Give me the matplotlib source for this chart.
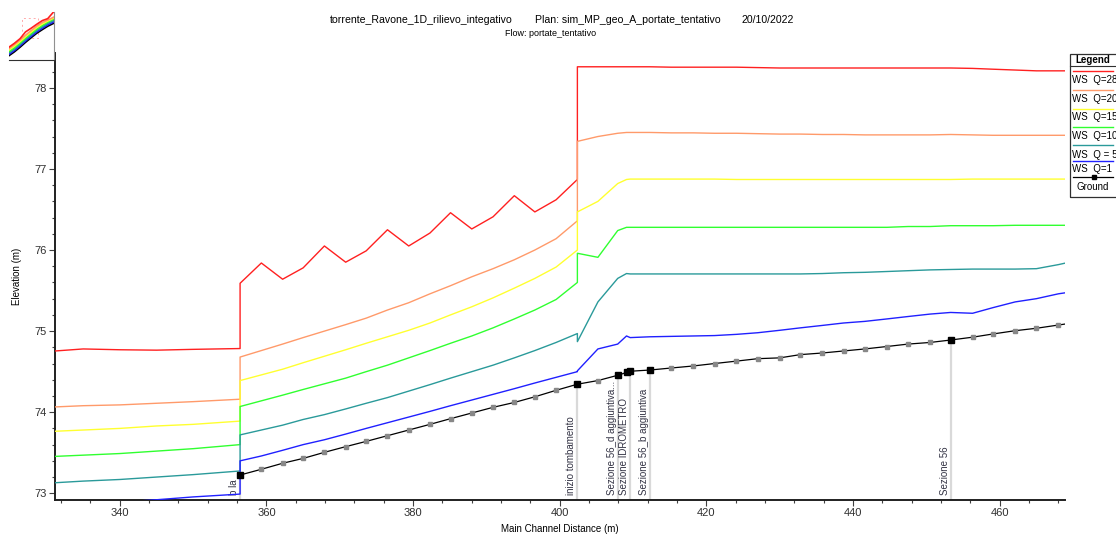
import matplotlib
matplotlib.use('Agg')
import matplotlib.pyplot as plt
from matplotlib.lines import Line2D
from matplotlib.patches import Rectangle
from matplotlib.ticker import MultipleLocator

plt.rcParams['font.family'] = ['Liberation Sans', 'DejaVu Sans']

# ---------------- data ----------------
stations = [331.2, 335.0, 340.0, 345.0, 350.0, 356.4,
            356.4, 359.3, 362.2, 365.0, 367.9, 370.8, 373.6, 376.5, 379.4,
            382.3, 385.1, 388.0, 390.9, 393.8, 396.6, 399.5, 402.4,
            402.4, 405.2, 407.9, 409.1, 409.6, 412.3, 415.2, 418.2, 421.1,
            424.1, 427.0, 430.0, 432.8, 435.8, 438.7, 441.6, 444.6, 447.5,
            450.5, 453.3, 456.3, 459.1, 462.1, 465.0, 468.0, 469.5]

ws_q28 = [74.755, 74.78, 74.77, 74.765, 74.775, 74.785,
          75.59, 75.84, 75.64, 75.78, 76.05, 75.85, 75.99, 76.25, 76.05,
          76.21, 76.46, 76.26, 76.41, 76.67, 76.47, 76.62, 76.87,
          78.26, 78.26, 78.26, 78.26, 78.26, 78.26, 78.255, 78.255, 78.255,
          78.255, 78.25, 78.245, 78.245, 78.245, 78.245, 78.245, 78.245, 78.245,
          78.245, 78.245, 78.24, 78.23, 78.22, 78.21, 78.21, 78.21]

ws_q20 = [74.065, 74.08, 74.09, 74.11, 74.13, 74.16,
          74.68, 74.76, 74.84, 74.92, 75.00, 75.08, 75.16, 75.26, 75.35,
          75.46, 75.56, 75.67, 75.77, 75.88, 76.00, 76.14, 76.36,
          77.34, 77.40, 77.44, 77.45, 77.45, 77.45, 77.445, 77.445, 77.44,
          77.44, 77.435, 77.43, 77.43, 77.425, 77.425, 77.42, 77.42, 77.42,
          77.42, 77.425, 77.42, 77.415, 77.415, 77.415, 77.415, 77.415]

ws_q15 = [73.765, 73.78, 73.80, 73.83, 73.85, 73.89,
          74.39, 74.46, 74.53, 74.61, 74.69, 74.77, 74.85, 74.93, 75.01,
          75.10, 75.20, 75.30, 75.41, 75.53, 75.65, 75.79, 76.00,
          76.47, 76.60, 76.82, 76.87, 76.875, 76.875, 76.875, 76.875, 76.875,
          76.87, 76.87, 76.87, 76.87, 76.87, 76.87, 76.87, 76.87, 76.87,
          76.87, 76.87, 76.875, 76.875, 76.875, 76.875, 76.875, 76.875]

ws_q10 = [73.455, 73.47, 73.49, 73.52, 73.55, 73.60,
          74.07, 74.14, 74.21, 74.28, 74.35, 74.42, 74.50, 74.58, 74.67,
          74.76, 74.85, 74.94, 75.04, 75.15, 75.26, 75.39, 75.60,
          75.96, 75.91, 76.24, 76.28, 76.28, 76.28, 76.28, 76.28, 76.28,
          76.28, 76.28, 76.28, 76.28, 76.28, 76.28, 76.28, 76.28, 76.29,
          76.29, 76.30, 76.30, 76.30, 76.305, 76.305, 76.305, 76.305]

ws_q5 = [73.13, 73.15, 73.17, 73.20, 73.23, 73.275,
         73.72, 73.78, 73.84, 73.91, 73.97, 74.04, 74.11, 74.18, 74.26,
         74.34, 74.42, 74.50, 74.58, 74.67, 74.76, 74.86, 74.97,
         74.87, 75.36, 75.65, 75.71, 75.705, 75.705, 75.705, 75.705, 75.705,
         75.705, 75.705, 75.705, 75.705, 75.71, 75.72, 75.725, 75.735, 75.745,
         75.755, 75.76, 75.765, 75.765, 75.765, 75.77, 75.82, 75.85]

ws_q1 = [72.85, 72.87, 72.89, 72.92, 72.955, 72.99,
         73.40, 73.46, 73.53, 73.60, 73.66, 73.73, 73.80, 73.87, 73.94,
         74.01, 74.08, 74.15, 74.22, 74.29, 74.36, 74.43, 74.50,
         74.51, 74.78, 74.84, 74.94, 74.92, 74.93, 74.935, 74.94, 74.945,
         74.96, 74.98, 75.01, 75.04, 75.07, 75.10, 75.12, 75.15, 75.18,
         75.21, 75.23, 75.22, 75.29, 75.36, 75.40, 75.46, 75.48]

ground_x = [356.4, 359.3, 362.2, 365.0, 367.9, 370.8, 373.6, 376.5, 379.4,
            382.3, 385.1, 388.0, 390.9, 393.8, 396.6, 399.5, 402.4,
            405.2, 407.9, 409.1, 409.6, 412.3, 415.2, 418.2, 421.1,
            424.1, 427.0, 430.0, 432.8, 435.8, 438.7, 441.6, 444.6, 447.5,
            450.5, 453.3, 456.3, 459.1, 462.1, 465.0, 468.0, 469.5]
ground_y = [73.225, 73.296, 73.37, 73.43, 73.505, 73.575, 73.64, 73.71, 73.78,
            73.85, 73.92, 73.99, 74.06, 74.12, 74.19, 74.27, 74.345,
            74.39, 74.455, 74.49, 74.505, 74.52, 74.545, 74.57, 74.60,
            74.63, 74.66, 74.67, 74.71, 74.73, 74.755, 74.78, 74.81, 74.84,
            74.86, 74.89, 74.925, 74.965, 75.005, 75.035, 75.075, 75.095]

named_x = [356.4, 402.4, 407.9, 409.1, 409.6, 412.3, 453.3]
label_x = [356.4, 402.4, 407.9, 409.6, 412.3, 453.3]
label_text = ["b la", "inizio tombamento", "Sezione 56_d aggiuntiva...",
              "Sezione IDROMETRO", "Sezione 56_b aggiuntiva", "Sezione 56"]

series_names = ["WS  Q=28", "WS  Q=20", "WS  Q=15", "WS  Q=10", "WS  Q = 5", "WS  Q=1"]
series_colors = ["#FF2020", "#FF9A6A", "#FFFF30", "#30FF30", "#2A9A9A", "#2020FF"]

title_parts = ["torrente_Ravone_1D_rilievo_integativo",
               "Plan: sim_MP_geo_A_portate_tentativo", "20/10/2022"]
subtitle = "Flow: portate_tentativo"

# thumbnail overview
thumb_x = [0, 12, 25, 37, 50, 62, 75, 87, 100]
thumb_ground = [8, 16, 26, 36, 46, 55, 63, 70, 76]
thumb_blue = [11, 19, 29, 39, 49, 58, 66, 73, 79]
thumb_teal = [14, 22, 32, 42, 52, 61, 69, 76, 82]
thumb_green = [17, 25, 35, 45, 55, 64, 72, 79, 85]
thumb_yellow = [20, 28, 38, 48, 58, 67, 75, 81, 87]
thumb_orange = [23, 31, 41, 51, 61, 70, 78, 83, 89]
thumb_red = [26, 34, 44, 58, 66, 74, 82, 86, 100]

# ---------------- figure ----------------
W, H = 1116, 537
fig = plt.figure(figsize=(W / 100, H / 100), dpi=100)

def fx(px):
    return px / W

def fy(py):
    return 1 - py / H

ax = fig.add_axes([fx(55.3), fy(500), fx(1065) - fx(55.3), fy(53) - fy(500)])
ymin, ymax = 72.917, 78.43
ax.set_xlim(331.2, 468.9)
ax.set_ylim(ymin, ymax)

ws_all = [ws_q28, ws_q20, ws_q15, ws_q10, ws_q5, ws_q1]
for vals, col in zip(ws_all, series_colors):
    ax.plot(stations, vals, color=col, lw=1.0, zorder=3)

# section lines & labels
for sx, st in zip(label_x, label_text):
    gy = ground_y[ground_x.index(sx)]
    ax.plot([sx, sx], [ymin, gy], color='#d9d9d9', lw=1.6, zorder=1)
    ax.annotate(st, xy=(sx, ymin), xytext=(-0.8, 3.5), textcoords='offset points',
                rotation=90, ha='right', va='bottom', fontsize=7, color='#333344',
                zorder=2)

ax.plot(ground_x, ground_y, color='black', lw=0.9, marker='s', markersize=3.2,
        markerfacecolor='#888888', markeredgecolor='#888888', zorder=4)
named_y = [ground_y[ground_x.index(v)] for v in named_x]
ax.plot(named_x, named_y, ls='none', marker='s', markersize=4.2,
        markerfacecolor='black', markeredgecolor='black', zorder=5)

for s in ['top', 'right']:
    ax.spines[s].set_visible(False)
for s in ['left', 'bottom']:
    ax.spines[s].set_linewidth(1.4)
    ax.spines[s].set_color('#202020')

ax.xaxis.set_major_locator(MultipleLocator(20))
ax.xaxis.set_minor_locator(MultipleLocator(4))
ax.yaxis.set_major_locator(MultipleLocator(1))
ax.yaxis.set_minor_locator(MultipleLocator(0.2))
ax.tick_params(which='major', length=4, width=0.8, color='#404040', labelsize=8,
               labelcolor='#303030', pad=2)
ax.tick_params(which='minor', length=2.5, width=0.8, color='#404040')
ax.set_xlabel('Main Channel Distance (m)', fontsize=7, labelpad=4)
ax.set_ylabel('Elevation (m)', fontsize=7, labelpad=9)

# titles
fig.text(fx(421), fy(20), title_parts[0], fontsize=7.6, ha='center', va='center')
fig.text(fx(628), fy(20), title_parts[1], fontsize=7.6, ha='center', va='center')
fig.text(fx(768), fy(20), title_parts[2], fontsize=7.6, ha='center', va='center')
fig.text(fx(551), fy(33), subtitle, fontsize=6.5, ha='center', va='center')

# legend (custom, figure coordinates)
fig.patches.append(Rectangle((fx(1069.5), fy(197)), fx(60), fy(53.5) - fy(197),
                             transform=fig.transFigure, fill=False,
                             edgecolor='#303030', lw=0.9))
fig.lines.append(Line2D([fx(1069.5), fx(1116)], [fy(66), fy(66)],
                        transform=fig.transFigure, color='#303030', lw=0.8))
fig.text(fx(1093), fy(60), 'Legend', fontsize=7, fontweight='bold',
         ha='center', va='center')
line_y = [70.7, 89.5, 108.5, 127.3, 144.5, 160.5]
text_y = [80, 98.5, 117, 136, 154.5, 168.5]
for name, col, ly, ty in zip(series_names, series_colors, line_y, text_y):
    fig.lines.append(Line2D([fx(1073), fx(1113)], [fy(ly), fy(ly)],
                            transform=fig.transFigure, color=col, lw=1.0))
    fig.text(fx(1072), fy(ty), name, fontsize=7, ha='left', va='center')
fig.lines.append(Line2D([fx(1073), fx(1113)], [fy(177.3), fy(177.3)],
                        transform=fig.transFigure, color='black', lw=0.9))
fig.lines.append(Line2D([fx(1094)], [fy(177.3)], transform=fig.transFigure,
                        ls='none', marker='s', markersize=3.5, color='black'))
fig.text(fx(1093), fy(187), 'Ground', fontsize=7, ha='center', va='center')

# thumbnail overview
tax = fig.add_axes([fx(9), fy(59.5), fx(53.5) - fx(9), fy(12) - fy(59.5)])
tax.set_xlim(0, 100)
tax.set_ylim(0, 100)
thumb_series = [thumb_ground, thumb_blue, thumb_teal, thumb_green,
                thumb_yellow, thumb_orange, thumb_red]
thumb_cols = ['black', '#2020FF', '#2A9A9A', '#30FF30', '#FFFF30', '#FF9A6A', '#FF2020']
for vals, col in zip(thumb_series, thumb_cols):
    tax.plot(thumb_x, vals, color=col, lw=1.2)
tax.add_patch(Rectangle((30, 45), 36, 42, fill=False, edgecolor='#ffaaaa', lw=0.7,
                        ls=(0, (2, 3))))
tax.set_xticks([])
tax.set_yticks([])
for s in ['top', 'left']:
    tax.spines[s].set_visible(False)
tax.spines['right'].set_color('#909090')
tax.spines['bottom'].set_color('#303030')

fig.savefig('out.png', dpi=100)
